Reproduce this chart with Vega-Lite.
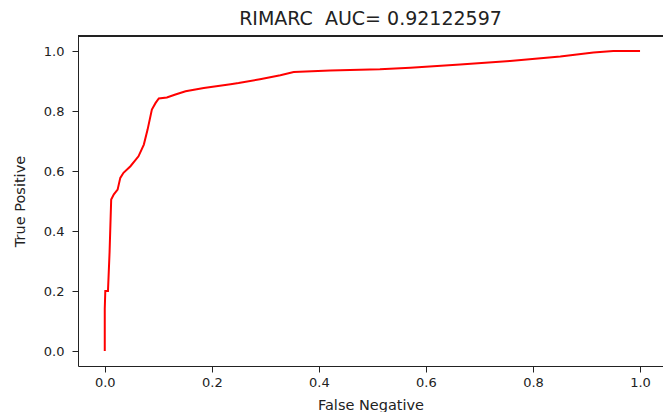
{
  "$schema": "https://vega.github.io/schema/vega-lite/v6.json",
  "width": 585,
  "height": 330,
  "autosize": {"type": "none"},
  "padding": {"left": 78, "top": 36, "right": 0, "bottom": 46},
  "background": "white",
  "config": {
    "view": {"stroke": null},
    "font": "DejaVu Sans",
    "axis": {
      "grid": false,
      "domainColor": "#222",
      "domainWidth": 1,
      "tickColor": "#222",
      "tickWidth": 1,
      "tickSize": 6,
      "labelColor": "#222",
      "labelFont": "DejaVu Sans",
      "labelFontSize": 13,
      "titleColor": "#222",
      "titleFont": "DejaVu Sans",
      "titleFontSize": 14.5,
      "titleFontWeight": "normal"
    },
    "title": {"font": "DejaVu Sans", "fontSize": 19, "fontWeight": "normal", "color": "#222"}
  },
  "title": {"text": "RIMARC\u00a0\u00a0AUC= 0.92122597", "anchor": "middle", "offset": 7},
  "data": {
    "values": [
      {"fn": 0.0, "tp": 0.0},
      {"fn": 0.0, "tp": 0.14},
      {"fn": 0.001, "tp": 0.2},
      {"fn": 0.006, "tp": 0.2},
      {"fn": 0.009, "tp": 0.33},
      {"fn": 0.012, "tp": 0.505},
      {"fn": 0.017, "tp": 0.522},
      {"fn": 0.024, "tp": 0.538},
      {"fn": 0.029, "tp": 0.577},
      {"fn": 0.035, "tp": 0.594},
      {"fn": 0.048, "tp": 0.616},
      {"fn": 0.063, "tp": 0.649},
      {"fn": 0.073, "tp": 0.688},
      {"fn": 0.080, "tp": 0.738},
      {"fn": 0.088, "tp": 0.805},
      {"fn": 0.095, "tp": 0.827},
      {"fn": 0.101, "tp": 0.842},
      {"fn": 0.116, "tp": 0.845},
      {"fn": 0.132, "tp": 0.855},
      {"fn": 0.151, "tp": 0.866},
      {"fn": 0.185, "tp": 0.877},
      {"fn": 0.235, "tp": 0.889},
      {"fn": 0.25, "tp": 0.893},
      {"fn": 0.29, "tp": 0.906},
      {"fn": 0.328, "tp": 0.919},
      {"fn": 0.353, "tp": 0.93},
      {"fn": 0.421, "tp": 0.935},
      {"fn": 0.514, "tp": 0.939},
      {"fn": 0.571, "tp": 0.944},
      {"fn": 0.664, "tp": 0.955},
      {"fn": 0.757, "tp": 0.967},
      {"fn": 0.851, "tp": 0.982},
      {"fn": 0.913, "tp": 0.995},
      {"fn": 0.95, "tp": 1.0},
      {"fn": 1.0, "tp": 1.0}
    ]
  },
  "layer": [
    {
      "mark": {"type": "line", "color": "#ff0000", "strokeWidth": 2, "clip": true},
      "encoding": {
        "x": {
          "field": "fn", "type": "quantitative",
          "scale": {"domain": [-0.05, 1.0429], "nice": false, "zero": false},
          "axis": {"orient": "bottom", "title": "False Negative", "values": [0, 0.2, 0.4, 0.6, 0.8, 1.0], "format": ".1f", "labelPadding": 4, "titlePadding": 9, "labelFlush": false}
        },
        "y": {
          "field": "tp", "type": "quantitative",
          "scale": {"domain": [-0.05, 1.05], "nice": false, "zero": false},
          "axis": {"title": "True Positive", "values": [0, 0.2, 0.4, 0.6, 0.8, 1.0], "format": ".1f", "labelPadding": 8, "titlePadding": 16, "labelFlush": false}
        },
        "order": {"field": "fn", "type": "quantitative"}
      }
    },
    {
      "mark": {"type": "rule", "color": "#222", "strokeWidth": 1},
      "encoding": {
        "y": {"datum": 1.05, "type": "quantitative"}
      }
    }
  ]
}
